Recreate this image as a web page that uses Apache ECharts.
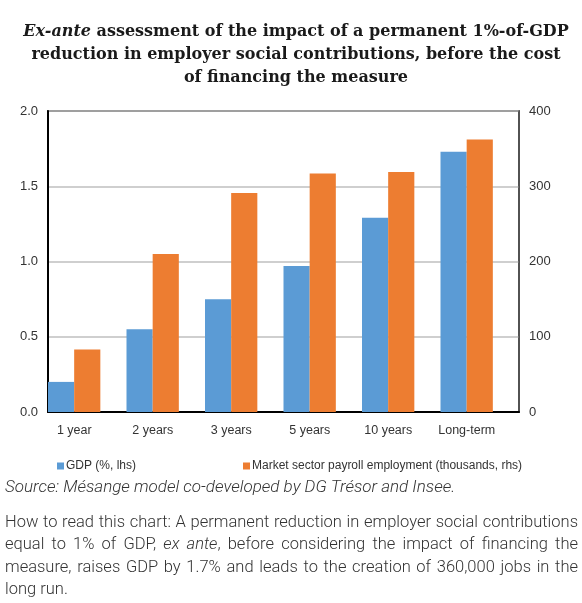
<!DOCTYPE html>
<html>
<head>
<meta charset="utf-8">
<script src="https://cdn.jsdelivr.net/npm/echarts@6/dist/echarts.min.js"></script>
<style>
html,body{margin:0;padding:0;background:#fff;}
#main{width:582px;height:603px;}
</style>
</head>
<body>
<div id="main"></div>
<script>
var categories = ['1 year', '2 years', '3 years', '5 years', '10 years', 'Long-term'];
var gdpValues = [0.20, 0.55, 0.75, 0.97, 1.29, 1.73];
var employmentValues = [83, 210, 291, 317, 319, 362];
var leftTicks = ['0.0', '0.5', '1.0', '1.5', '2.0'];
var rightTicks = ['0', '100', '200', '300', '400'];
var seriesNames = ['GDP (%, lhs)', 'Market sector payroll employment (thousands, rhs)'];
var titleLines = [
  '{it|Ex-ante} assessment of the impact of a permanent 1%-of-GDP',
  'reduction in employer social contributions, before the cost',
  'of financing the measure'
];
var noteLines = [
  'How to read this chart: A permanent reduction in employer social contributions',
  'equal to 1% of GDP, {i|ex} {i|ante}, before considering the impact of financing the',
  'measure, raises GDP by 1.7% and leads to the creation of 360,000 jobs in the',
  'long run.'
];
var sourceText = 'Source: Mésange model co-developed by DG Trésor and Insee.';

var chart = echarts.init(document.getElementById('main'), null, {renderer: 'canvas'});
var labelFont = 'Liberation Sans, Arial, sans-serif';

// justified note text
var noteSize = 16.5;
var noteFont = '300 ' + noteSize + 'px Roboto';
var noteItalicFont = 'italic 300 ' + noteSize + 'px Roboto';
var ctx = document.createElement('canvas').getContext('2d');
function measureWord(w) {
  var total = 0;
  var re = /\{i\|([^}]*)\}|([^{]+)/g, m;
  while ((m = re.exec(w)) !== null) {
    if (m[1] !== undefined) { ctx.font = noteItalicFont; total += ctx.measureText(m[1]).width; }
    else { ctx.font = noteFont; total += ctx.measureText(m[2]).width; }
  }
  return total;
}
var noteLeft = 5, noteRight = 578, noteTop = 514, noteLineH = 22.5;
var noteGraphics = [];
noteLines.forEach(function (line, i) {
  var words = line.split(' ');
  var widths = words.map(measureWord);
  var sum = widths.reduce(function (a, b) { return a + b; }, 0);
  var justify = i < noteLines.length - 1 && words.length > 1;
  ctx.font = noteFont;
  var gap = justify ? (noteRight - noteLeft - sum) / (words.length - 1) : ctx.measureText(' ').width;
  var x = noteLeft;
  words.forEach(function (w, k) {
    noteGraphics.push({
      type: 'text', x: x, y: noteTop + i * noteLineH,
      style: {
        text: w, font: noteFont, fill: '#333',
        rich: { i: { fontStyle: 'italic', fontFamily: 'Roboto', fontWeight: 300, fontSize: noteSize, fill: '#333' } }
      }
    });
    x += widths[k] + gap;
  });
});
noteGraphics.push({
  type: 'text', x: 5, y: 479,
  style: { text: sourceText, font: 'italic 300 17px Roboto', fill: '#333' }
});

chart.setOption({
  animation: false,
  title: {
    text: titleLines.join('\n'),
    left: 291, top: 15, textAlign: 'center',
    textStyle: {
      fontFamily: 'DejaVu Serif', fontWeight: 'bold', fontSize: 16, lineHeight: 23, color: '#1a1a1a',
      rich: { it: { fontFamily: 'DejaVu Serif', fontWeight: 'bold', fontStyle: 'italic', fontSize: 16, lineHeight: 23, color: '#1a1a1a' } }
    }
  },
  legend: {
    data: seriesNames,
    left: 52, top: 455,
    itemWidth: 7, itemHeight: 7, itemGap: 107,
    icon: 'rect',
    textStyle: { fontFamily: labelFont, fontSize: 12, color: '#333', padding: [0, 0, 0, -3] }
  },
  grid: {
    left: 48, right: 63, top: 111, bottom: 191,
    show: true, borderColor: '#000', borderWidth: 1.5, backgroundColor: 'transparent'
  },
  xAxis: {
    type: 'category', data: categories,
    axisLine: { lineStyle: { color: '#000', width: 2 } },
    axisTick: { show: false },
    axisLabel: { fontFamily: labelFont, fontSize: 12.5, color: '#333', margin: 12, padding: [0, 26, 0, 0], interval: 0 }
  },
  yAxis: [{
    type: 'value', min: 0, max: 2, interval: 0.5, position: 'left',
    axisLine: { show: true, lineStyle: { color: '#000', width: 2 } },
    axisTick: { show: false },
    splitLine: { lineStyle: { color: '#bfbfbf', width: 1.5 } },
    axisLabel: { fontFamily: labelFont, fontSize: 13, color: '#333', margin: 10,
      formatter: function (v) { return leftTicks[Math.round(v / 0.5)]; } }
  }, {
    type: 'value', min: 0, max: 400, interval: 100, position: 'right',
    axisLine: { show: true, lineStyle: { color: '#595959', width: 1.5 } },
    axisTick: { show: false },
    splitLine: { show: false },
    axisLabel: { fontFamily: labelFont, fontSize: 13, color: '#333', margin: 10,
      formatter: function (v) { return rightTicks[Math.round(v / 100)]; } }
  }],
  series: [{
    name: seriesNames[0], type: 'bar', yAxisIndex: 0, data: gdpValues,
    itemStyle: { color: '#5b9bd5' }, barGap: '0%', barCategoryGap: '0%'
  }, {
    name: seriesNames[1], type: 'bar', yAxisIndex: 1, data: employmentValues,
    itemStyle: { color: '#ed7d31' }, barGap: '0%', barCategoryGap: '0%'
  }, {
    name: 'spacer', type: 'bar', yAxisIndex: 0, data: categories.map(function () { return '-'; }),
    itemStyle: { color: 'transparent' }, barGap: '0%', barCategoryGap: '0%', silent: true
  }],
  graphic: noteGraphics
});
</script>
</body>
</html>
